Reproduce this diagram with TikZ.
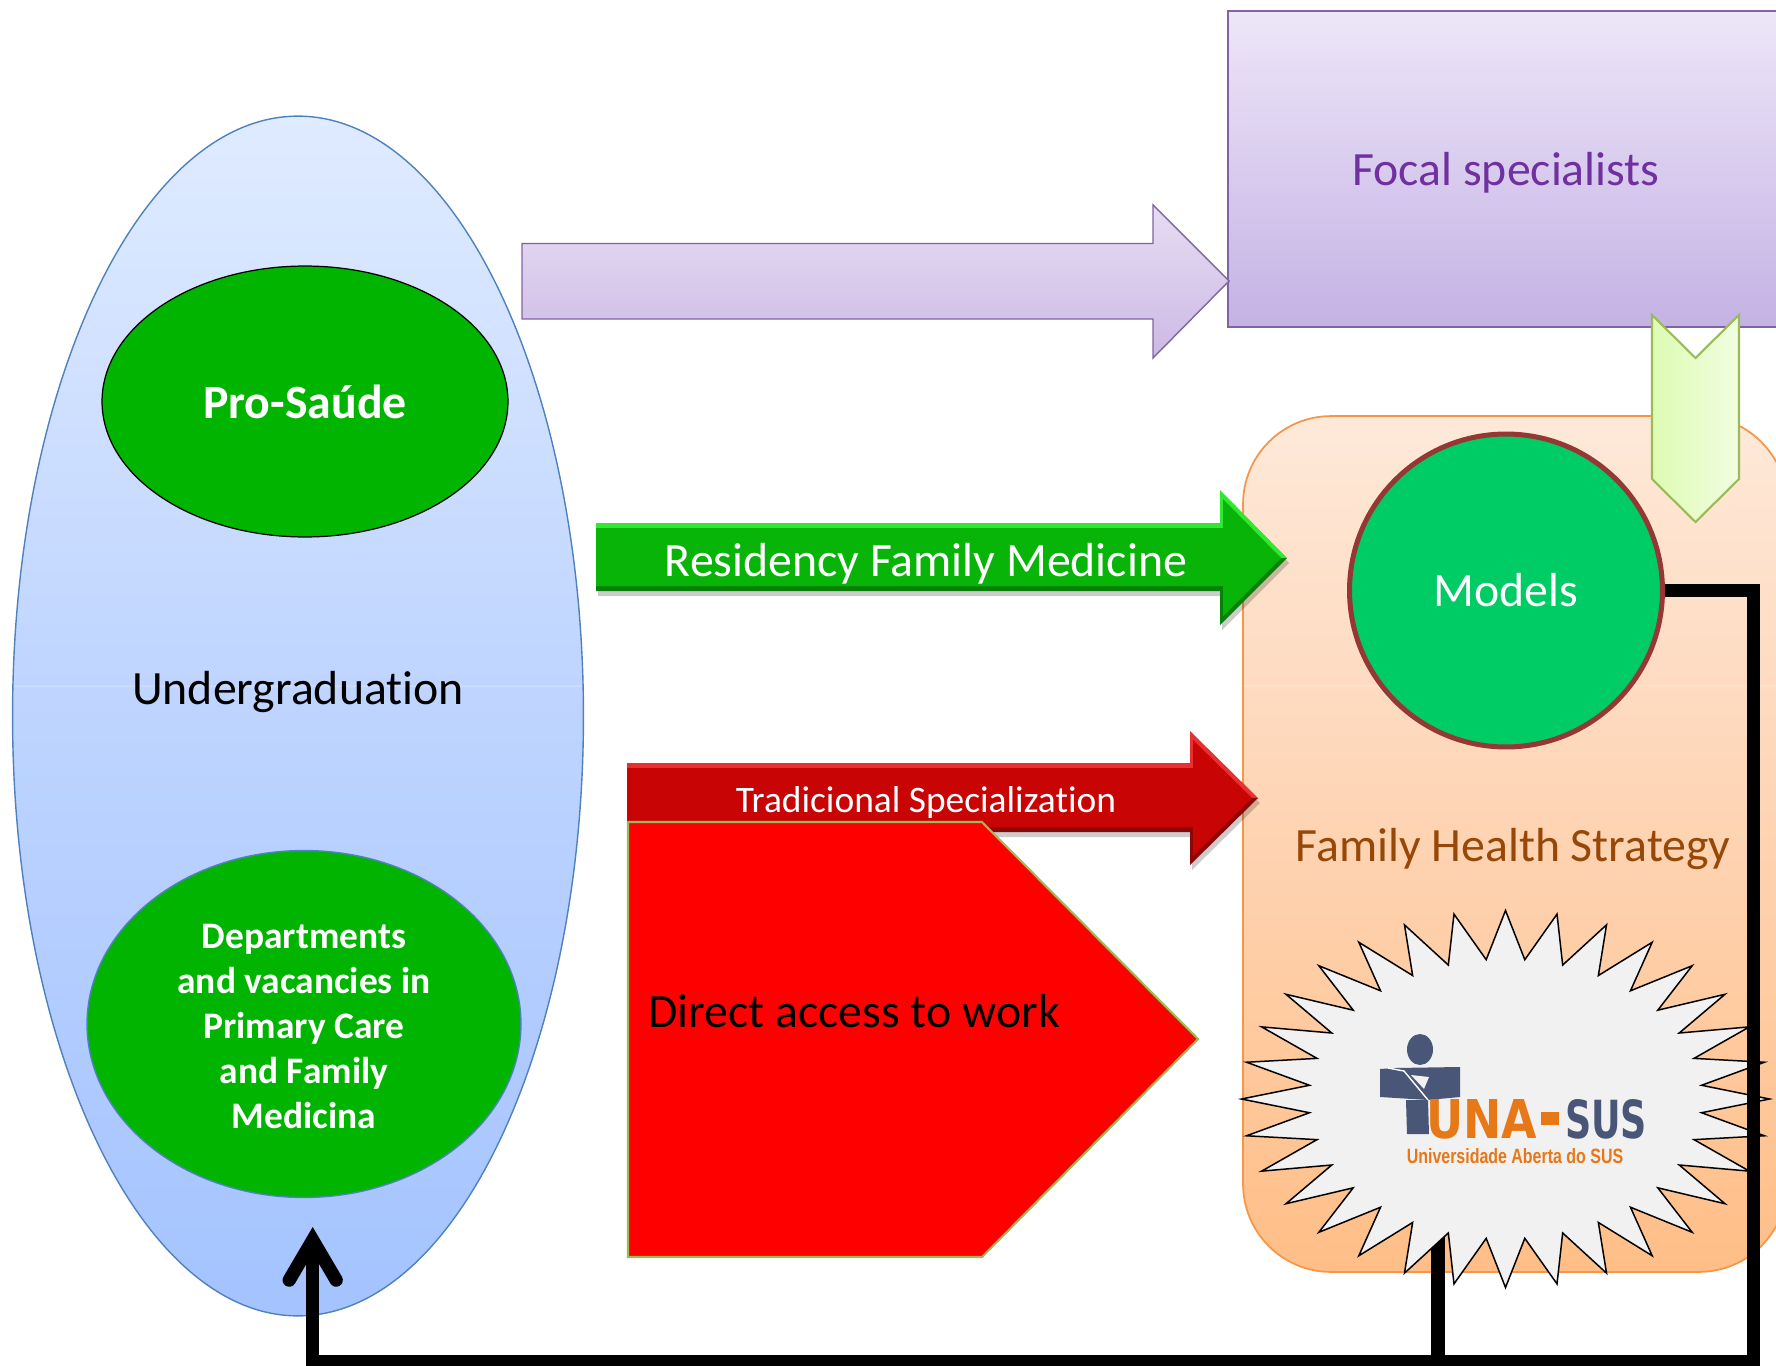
\documentclass[tikz,border=0pt]{standalone}
\usepackage{fontspec}
\setmainfont{Carlito}[Ligatures=CommonOff]
\newfontfamily\logofont{DejaVu Sans}
\newfontfamily\logosmall{Liberation Sans}
\usetikzlibrary{shapes.geometric,arrows.meta}
\definecolor{blueedge}{HTML}{4F81BD}
\definecolor{ovalgreen}{HTML}{00B400}
\definecolor{modelgreen}{HTML}{00CC66}
\definecolor{modeledge}{HTML}{953735}
\definecolor{purpleedge}{HTML}{8064A2}
\definecolor{purpletext}{HTML}{7030A0}
\definecolor{purpletop}{HTML}{EDE6F8}
\definecolor{purplelow}{HTML}{C4B2E4}
\definecolor{arrowtop}{HTML}{E6DCF3}
\definecolor{arrowlow}{HTML}{CDB9E4}
\definecolor{orangeedge}{HTML}{F79646}
\definecolor{orangetext}{HTML}{984806}
\definecolor{limeedge}{HTML}{9BBB59}
\definecolor{limeleft}{HTML}{DEFBB3}
\definecolor{limeright}{HTML}{F1FDE1}
\definecolor{logoblue}{HTML}{4A5678}
\definecolor{logoorange}{HTML}{E67817}
\definecolor{greenlight}{HTML}{30E830}
\definecolor{greenmain}{HTML}{08B408}
\definecolor{greendark}{HTML}{068006}
\definecolor{redlight}{HTML}{E83030}
\definecolor{redmain}{HTML}{C80404}
\definecolor{reddark}{HTML}{8C0808}
\definecolor{blueA}{HTML}{A4C3FF}
\definecolor{blueB}{HTML}{BFD5FF}
\definecolor{blueC}{HTML}{CFE0FF}
\definecolor{blueD}{HTML}{DFEBFF}
\definecolor{orangeA}{HTML}{FFBE87}
\definecolor{orangeB}{HTML}{FEDBC1}
\definecolor{orangeC}{HTML}{FEE5D2}
\definecolor{orangeD}{HTML}{FEE9D9}
\pgfdeclareverticalshading{bluefade}{100bp}{color(0bp)=(blueA);color(25bp)=(blueA);color(51.22bp)=(blueB);color(51.25bp)=(blueC);color(51.28bp)=(blueC);color(51.31bp)=(blueB);color(75bp)=(blueD);color(100bp)=(blueD)}
\pgfdeclareverticalshading{orangefade}{100bp}{color(0bp)=(orangeA);color(25bp)=(orangeA);color(59.22bp)=(orangeB);color(59.25bp)=(orangeC);color(59.29bp)=(orangeC);color(59.32bp)=(orangeB);color(75bp)=(orangeD);color(100bp)=(orangeD)}
\tikzset{
	lbl/.style={inner sep=0pt,font=\fontsize{#1}{#1}\selectfont},
	blackline/.style={line width=7.56pt,black},
	oval/.style={ellipse,draw,fill=ovalgreen,text=white,align=center,inner sep=0pt},
}
\begin{document}
\begin{tikzpicture}[x=.02cm,y=-.02cm,>={Straight Barb[length=.8cm,width=.94cm,line cap=round,line join=miter]}]
	\useasboundingbox (0,0) rectangle (1776,1366);
	\clip (0,0) rectangle (1776,1366);
	% left side
	\node[ellipse,draw=blueedge,line width=.8pt,shading=bluefade,minimum width=11.42cm,minimum height=24cm] (under) at (298,716) {};
	\node[lbl=27.2] (underlabel) at (298,692.5) {Undergraduation};
	\node[oval,line width=.7pt,minimum width=8.12cm,minimum height=5.42cm,font=\fontsize{27.2}{27.2}\selectfont\bfseries] (prosaude) at (305,401.5) {Pro-Saúde};
	\node[oval,draw=blueedge,line width=.8pt,minimum width=8.68cm,minimum height=6.94cm] (depart) at (304,1024) {};
	\node[inner sep=0pt,text=white,align=center,font=\fontsize{21.3}{25.6}\selectfont\bfseries] (departlabel) at (304,1026.5) {Departments\\and vacancies in\\Primary Care\\and Family\\Medicina};
	% right side
	\draw[draw=purpleedge,line width=1pt,top color=purpletop,bottom color=purplelow] (1228,11) rectangle (1800,327);
	\node[lbl=27.2,text=purpletext] (focal) at (1506,172.5) {Focal specialists};
	\draw[draw=purpleedge,line width=.8pt,top color=arrowtop,bottom color=arrowlow] (522,243.5) -- (1153,243.5) -- (1153,205) -- (1229,281) -- (1153,358) -- (1153,319) -- (522,319) -- cycle;
	\node[rectangle,rounded corners=1.76cm,draw=orangeedge,line width=1pt,shading=orangefade,minimum width=10.88cm,minimum height=17.12cm] (strategy) at (1515,844) {};
	\node[lbl=27.2,text=orangetext] (strategylabel) at (1513,849.5) {Family Health Strategy};
	\node[circle,draw=modeledge,fill=modelgreen,line width=2.85pt,text=white,minimum size=6.26cm,inner sep=0pt,font=\fontsize{27.2}{27.2}\selectfont] (models) at (1506,590.5) {Models};
	\draw[draw=limeedge,line width=1.2pt,left color=limeleft,right color=limeright] (1652,315) -- (1695.5,358) -- (1739,315) -- (1739,479) -- (1695.5,522) -- (1652,479) -- cycle;
	% bevelled arrows
	\foreach \xa/\yt/\yb/\xh/\ha/\hb/\xt/\ym/\cn in {596/523/591/1220/490/625/1287/558/green,627/763/832/1190/731/865/1258/798/red}{
		\fill[black,opacity=.2] (\xa+2,\yt+5) -- (\xh+2,\yt+5) -- (\xh+2,\ha+5) -- (\xt+2,\ym+5) -- (\xh+2,\hb+5) -- (\xh+2,\yb+5) -- (\xa+2,\yb+5) -- cycle;
		\fill[\cn light] (\xa,\ym) -- (\xa,\yt) -- (\xh,\yt) -- (\xh,\ha) -- (\xt,\ym) -- cycle;
		\fill[\cn dark] (\xa,\ym) -- (\xa,\yb) -- (\xh,\yb) -- (\xh,\hb) -- (\xt,\ym) -- cycle;
		\fill[\cn main] (\xa,\yt+5) -- (\xh+3,\yt+5) -- (\xh+3,\ha+9) -- (\xt-6,\ym) -- (\xh+3,\hb-9) -- (\xh+3,\yb-5) -- (\xa,\yb-5) -- cycle;
	}
	\node[lbl=27.2,text=white] (residency) at (926,563.5) {Residency Family Medicine};
	\node[lbl=21.3,text=white] (tradicional) at (926,803) {Tradicional Specialization};
	\draw[draw=limeedge,line width=1.2pt,fill=red] (628,822) -- (982,822) -- (1198,1039) -- (982,1257) -- (628,1257) -- cycle;
	\node[lbl=27.2] (direct) at (854,1011) {Direct access to work};
	% stem first, the burst covers its upper end
	\coordinate (stemtop) at (1438,1200);
	\coordinate (stembase) at (1438,1361);
	\draw[line width=8pt] (stemtop) -- (stembase);
	\begin{scope}[shift={(1505.5,1099)}]
		\draw[line width=.85pt,fill=black!5.5] (0:264 and 188.5) \foreach \i in {1,...,63}{ -- ({5.625*\i}:{264-67*mod(\i,2)} and {188.5-48.5*mod(\i,2)})} -- cycle;
	\end{scope}
	% logo
	\fill[logoblue] (1420,1049.5) ellipse [x radius=13,y radius=15.5];
	\fill[logoblue] (1380,1069) -- (1395,1068) -- (1460,1067) -- (1460,1097) -- (1428,1100) -- (1380,1097) -- cycle;
	\fill[logoblue] (1406,1100) -- (1428,1100) -- (1429,1134) -- (1407,1134) -- cycle;
	\draw[white,line width=.8pt] (1388,1068) -- (1404,1071) -- (1428,1100);
	\fill[black!5.5] (1411,1075) -- (1429,1077) -- (1424,1089) -- cycle;
	\node[inner sep=0pt,text=logoorange] (una) at (1481.5,1119) {\resizebox{2.22cm}{.78cm}{\logofont\bfseries UNA}};
	\fill[logoorange] (1541,1112) rectangle (1559,1125);
	\node[inner sep=0pt,text=logoblue] (sus) at (1606,1119) {\resizebox{1.64cm}{.78cm}{\logofont\bfseries SUS}};
	\node[inner sep=0pt,text=logoorange] (unasus) at (1515,1156) {\resizebox{4.33cm}{.3cm}{\logosmall\bfseries Universidade Aberta do SUS}};
	% connector back to the departments
	\coordinate (corner) at (1753.5,1361.5);
	\coordinate (departtip) at (312.7,1227);
	\draw[blackline,->] (models.east) -| (corner) -| (departtip);
\end{tikzpicture}
\end{document}
